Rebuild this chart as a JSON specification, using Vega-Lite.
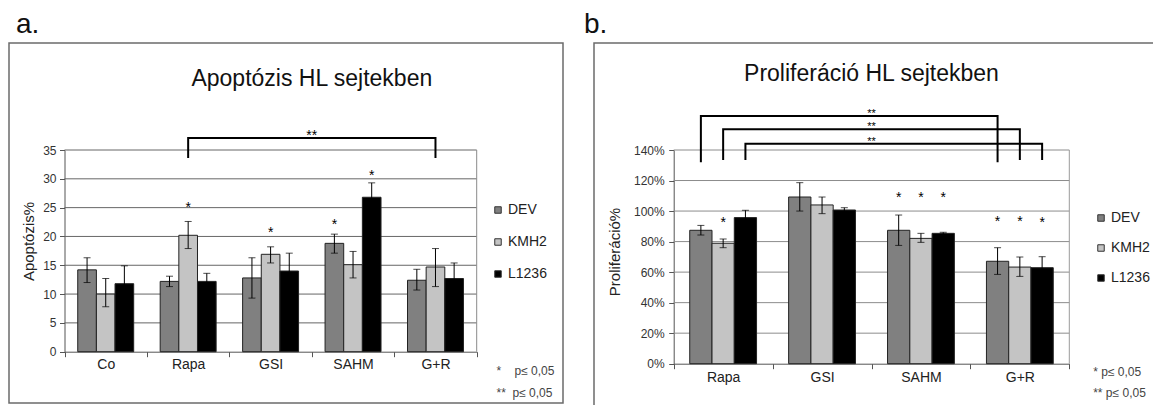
{
  "$schema": "https://vega.github.io/schema/vega-lite/v6.json",
  "padding": {"left": 8, "top": 10, "right": 0, "bottom": 0},
  "background": "white",
  "bounds": "flush",
  "spacing": 31,
  "config": {
    "font": "Liberation Sans",
    "view": {"stroke": "#6b6b6b", "strokeWidth": 1.5},
    "title": {"fontSize": 28, "fontWeight": "normal", "anchor": "start", "frame": "group", "baseline": "top", "offset": 4, "color": "#111"},
    "axis": {"grid": false, "labelColor": "#333", "domainColor": "#555", "tickColor": "#555", "titleFontWeight": "normal", "titleColor": "#222", "labelFont": "Liberation Sans", "titleFont": "Liberation Sans"}
  },
  "resolve": {"scale": {"color": "independent", "xOffset": "independent", "x": "independent", "y": "independent"}, "legend": {"color": "independent"}},
  "datasets": {
    "barsA": [
      {"group": "Co", "cell": "DEV", "value": 14.2, "lo": 12.0, "hi": 16.3},
      {"group": "Co", "cell": "KMH2", "value": 10.0, "lo": 7.8, "hi": 12.7},
      {"group": "Co", "cell": "L1236", "value": 11.8, "lo": 8.7, "hi": 14.9},
      {"group": "Rapa", "cell": "DEV", "value": 12.2, "lo": 11.3, "hi": 13.1},
      {"group": "Rapa", "cell": "KMH2", "value": 20.2, "lo": 17.9, "hi": 22.6},
      {"group": "Rapa", "cell": "L1236", "value": 12.2, "lo": 10.8, "hi": 13.6},
      {"group": "GSI", "cell": "DEV", "value": 12.8, "lo": 9.3, "hi": 16.3},
      {"group": "GSI", "cell": "KMH2", "value": 16.9, "lo": 15.4, "hi": 18.2},
      {"group": "GSI", "cell": "L1236", "value": 14.0, "lo": 11.0, "hi": 17.1},
      {"group": "SAHM", "cell": "DEV", "value": 18.8, "lo": 17.1, "hi": 20.4},
      {"group": "SAHM", "cell": "KMH2", "value": 15.1, "lo": 12.8, "hi": 17.4},
      {"group": "SAHM", "cell": "L1236", "value": 26.8, "lo": 24.3, "hi": 29.3},
      {"group": "G+R", "cell": "DEV", "value": 12.4, "lo": 10.7, "hi": 14.3},
      {"group": "G+R", "cell": "KMH2", "value": 14.7, "lo": 11.3, "hi": 17.9},
      {"group": "G+R", "cell": "L1236", "value": 12.7, "lo": 10.0, "hi": 15.4}
    ],
    "starsA": [
      {"group": "Rapa", "cell": "KMH2", "v": 25.7, "t": "*"},
      {"group": "GSI", "cell": "KMH2", "v": 21.3, "t": "*"},
      {"group": "SAHM", "cell": "DEV", "v": 22.6, "t": "*"},
      {"group": "SAHM", "cell": "L1236", "v": 31.2, "t": "*"}
    ],
    "gridA": [
      {"g1": "Co", "g2": "G+R", "v": 5}, {"g1": "Co", "g2": "G+R", "v": 10},
      {"g1": "Co", "g2": "G+R", "v": 15}, {"g1": "Co", "g2": "G+R", "v": 20},
      {"g1": "Co", "g2": "G+R", "v": 25}, {"g1": "Co", "g2": "G+R", "v": 30},
      {"g1": "Co", "g2": "G+R", "v": 35}
    ],
    "edgeA": [{"g": "G+R", "v0": 0, "v1": 35}],
    "bracketA": [
      {"id": 1, "group": "Rapa", "cell": "KMH2", "v": 33.6, "o": 1},
      {"id": 1, "group": "Rapa", "cell": "KMH2", "v": 37.1, "o": 2},
      {"id": 1, "group": "G+R", "cell": "KMH2", "v": 37.1, "o": 3},
      {"id": 1, "group": "G+R", "cell": "KMH2", "v": 33.6, "o": 4}
    ],
    "bracketLabA": [{"g": "GSI", "v": 37.1, "t": "**"}],
    "titleA": [{"g": "GSI", "v": 46.1, "t": "Apoptózis  HL sejtekben"}],
    "barsB": [
      {"group": "Rapa", "cell": "DEV", "value": 87.4, "lo": 84.3, "hi": 90.6},
      {"group": "Rapa", "cell": "KMH2", "value": 78.9, "lo": 76.0, "hi": 81.7},
      {"group": "Rapa", "cell": "L1236", "value": 95.7, "lo": 91.0, "hi": 100.5},
      {"group": "GSI", "cell": "DEV", "value": 109.2, "lo": 100.0, "hi": 118.6},
      {"group": "GSI", "cell": "KMH2", "value": 104.0, "lo": 98.3, "hi": 109.2},
      {"group": "GSI", "cell": "L1236", "value": 100.7, "lo": 99.2, "hi": 102.2},
      {"group": "SAHM", "cell": "DEV", "value": 87.4, "lo": 77.5, "hi": 97.4},
      {"group": "SAHM", "cell": "KMH2", "value": 82.1, "lo": 79.5, "hi": 85.4},
      {"group": "SAHM", "cell": "L1236", "value": 85.4, "lo": 84.8, "hi": 86.1},
      {"group": "G+R", "cell": "DEV", "value": 67.1, "lo": 58.5, "hi": 76.0},
      {"group": "G+R", "cell": "KMH2", "value": 63.3, "lo": 57.2, "hi": 69.9},
      {"group": "G+R", "cell": "L1236", "value": 62.9, "lo": 55.7, "hi": 70.1}
    ],
    "starsB": [
      {"group": "Rapa", "cell": "KMH2", "v": 94.6, "t": "*"},
      {"group": "SAHM", "cell": "DEV", "v": 111.0, "t": "*"},
      {"group": "SAHM", "cell": "KMH2", "v": 111.0, "t": "*"},
      {"group": "SAHM", "cell": "L1236", "v": 111.0, "t": "*"},
      {"group": "G+R", "cell": "DEV", "v": 95.7, "t": "*"},
      {"group": "G+R", "cell": "KMH2", "v": 95.7, "t": "*"},
      {"group": "G+R", "cell": "L1236", "v": 94.6, "t": "*"}
    ],
    "gridB": [
      {"g1": "Rapa", "g2": "G+R", "v": 20}, {"g1": "Rapa", "g2": "G+R", "v": 40},
      {"g1": "Rapa", "g2": "G+R", "v": 60}, {"g1": "Rapa", "g2": "G+R", "v": 80},
      {"g1": "Rapa", "g2": "G+R", "v": 100}, {"g1": "Rapa", "g2": "G+R", "v": 120},
      {"g1": "Rapa", "g2": "G+R", "v": 140}
    ],
    "edgeB": [{"g": "G+R", "v0": 0, "v1": 140}],
    "bracketB": [
      {"id": 1, "group": "Rapa", "cell": "DEV", "v": 132, "o": 1},
      {"id": 1, "group": "Rapa", "cell": "DEV", "v": 162.3, "o": 2},
      {"id": 1, "group": "G+R", "cell": "DEV", "v": 162.3, "o": 3},
      {"id": 1, "group": "G+R", "cell": "DEV", "v": 132, "o": 4},
      {"id": 2, "group": "Rapa", "cell": "KMH2", "v": 133.5, "o": 1},
      {"id": 2, "group": "Rapa", "cell": "KMH2", "v": 153.6, "o": 2},
      {"id": 2, "group": "G+R", "cell": "KMH2", "v": 153.6, "o": 3},
      {"id": 2, "group": "G+R", "cell": "KMH2", "v": 133.5, "o": 4},
      {"id": 3, "group": "Rapa", "cell": "L1236", "v": 133.5, "o": 1},
      {"id": 3, "group": "Rapa", "cell": "L1236", "v": 144.1, "o": 2},
      {"id": 3, "group": "G+R", "cell": "L1236", "v": 144.1, "o": 3},
      {"id": 3, "group": "G+R", "cell": "L1236", "v": 133.5, "o": 4}
    ],
    "bracketLabB": [
      {"g": "SAHM", "v": 162.3, "t": "**"},
      {"g": "SAHM", "v": 153.6, "t": "**"},
      {"g": "SAHM", "v": 144.1, "t": "**"}
    ],
    "titleB": [{"g": "SAHM", "v": 185.2, "t": "Proliferáció  HL sejtekben"}]
  },
  "hconcat": [
    {
      "width": 554,
      "height": 360,
      "title": {"text": "a.", "dx": 7},
      "layer": [
        {
          "data": {"name": "gridA"},
          "mark": {"type": "rule", "color": "#666666", "strokeWidth": 1},
          "encoding": {
            "x": {"field": "g1", "type": "nominal", "bandPosition": 0},
            "x2": {"field": "g2", "bandPosition": 1},
            "y": {"field": "v", "type": "quantitative"}
          }
        },
        {
          "data": {"name": "edgeA"},
          "mark": {"type": "rule", "color": "#8a8a8a", "strokeWidth": 1},
          "encoding": {
            "x": {"field": "g", "type": "nominal", "bandPosition": 1},
            "y": {"field": "v0", "type": "quantitative"},
            "y2": {"field": "v1"}
          }
        },
        {
          "data": {"name": "barsA"},
          "mark": {"type": "bar", "stroke": "#222", "strokeWidth": 1},
          "encoding": {
            "x": {
              "field": "group", "type": "nominal",
              "scale": {"domain": ["Co", "Rapa", "GSI", "SAHM", "G+R"], "range": [55.5, 467.7], "paddingInner": 0, "paddingOuter": 0},
              "axis": {
                "title": ["*\u00a0\u00a0\u00a0\u00a0p≤ 0,05", "**\u00a0\u00a0p≤ 0,05"],
                "titleX": 487, "titleY": 23, "titleAlign": "left", "titleBaseline": "alphabetic",
                "titleFontSize": 12, "titleColor": "#444", "titleLineHeight": 21.7,
                "offset": -51.3, "labelAngle": 0, "labelAlign": "center", "labelFontSize": 14, "labelColor": "#222",
                "labelPadding": 8, "tickBand": "extent", "tickSize": 5
              }
            },
            "xOffset": {"field": "cell", "type": "nominal", "scale": {"domain": ["DEV", "KMH2", "L1236"], "paddingInner": 0, "paddingOuter": 0.71}},
            "y": {
              "field": "value", "type": "quantitative",
              "scale": {"domain": [0, 35], "range": [308.7, 107], "nice": false, "zero": false},
              "axis": {
                "title": "Apoptózis%", "offset": -55.5, "values": [0, 5, 10, 15, 20, 25, 30, 35],
                "labelFontSize": 12, "labelPadding": 3.5, "tickSize": 5,
                "titleFontSize": 15, "titleX": -36, "titleY": 198, "titleAlign": "center", "titleBaseline": "middle", "titleAngle": 270
              }
            },
            "color": {
              "field": "cell", "type": "nominal",
              "scale": {"domain": ["DEV", "KMH2", "L1236"], "range": ["#808080", "#c4c4c4", "#000000"]},
              "legend": {"orient": "none", "legendX": 482, "legendY": 160, "title": null, "symbolType": "square", "symbolSize": 42, "symbolStrokeColor": "#333", "symbolStrokeWidth": 1, "labelFontSize": 14, "labelColor": "#222", "rowPadding": 18, "labelOffset": 3}
            }
          }
        },
        {
          "data": {"name": "barsA"},
          "mark": {"type": "rule", "color": "#000", "strokeWidth": 1},
          "encoding": {
            "x": {"field": "group", "type": "nominal"},
            "xOffset": {"field": "cell", "type": "nominal"},
            "y": {"field": "lo", "type": "quantitative"},
            "y2": {"field": "hi"}
          }
        },
        {
          "data": {"name": "barsA"},
          "mark": {"type": "tick", "color": "#000", "size": 7, "thickness": 1},
          "encoding": {
            "x": {"field": "group", "type": "nominal"},
            "xOffset": {"field": "cell", "type": "nominal"},
            "y": {"field": "lo", "type": "quantitative"}
          }
        },
        {
          "data": {"name": "barsA"},
          "mark": {"type": "tick", "color": "#000", "size": 7, "thickness": 1},
          "encoding": {
            "x": {"field": "group", "type": "nominal"},
            "xOffset": {"field": "cell", "type": "nominal"},
            "y": {"field": "hi", "type": "quantitative"}
          }
        },
        {
          "data": {"name": "starsA"},
          "mark": {"type": "text", "fontSize": 14, "color": "#000", "baseline": "alphabetic", "dy": 8},
          "encoding": {
            "x": {"field": "group", "type": "nominal"},
            "xOffset": {"field": "cell", "type": "nominal"},
            "y": {"field": "v", "type": "quantitative"},
            "text": {"field": "t"}
          }
        },
        {
          "data": {"name": "bracketA"},
          "mark": {"type": "line", "color": "#000", "strokeWidth": 2},
          "encoding": {
            "x": {"field": "group", "type": "nominal"},
            "xOffset": {"field": "cell", "type": "nominal"},
            "y": {"field": "v", "type": "quantitative"},
            "order": {"field": "o"},
            "detail": {"field": "id"}
          }
        },
        {
          "data": {"name": "bracketLabA"},
          "mark": {"type": "text", "fontSize": 14, "color": "#000", "baseline": "alphabetic", "dy": 2},
          "encoding": {
            "x": {"field": "g", "type": "nominal", "bandPosition": 1},
            "y": {"field": "v", "type": "quantitative"},
            "text": {"field": "t"}
          }
        },
        {
          "data": {"name": "titleA"},
          "mark": {"type": "text", "fontSize": 23, "color": "#111", "baseline": "alphabetic"},
          "encoding": {
            "x": {"field": "g", "type": "nominal", "bandPosition": 1},
            "y": {"field": "v", "type": "quantitative"},
            "text": {"field": "t"}
          }
        }
      ]
    },
    {
      "width": 560,
      "height": 363,
      "title": {"text": "b.", "dx": -10},
      "view": {"strokeDash": [560, 923, 363]},
      "layer": [
        {
          "data": {"name": "gridB"},
          "mark": {"type": "rule", "color": "#8c8c8c", "strokeWidth": 1},
          "encoding": {
            "x": {"field": "g1", "type": "nominal", "bandPosition": 0},
            "x2": {"field": "g2", "bandPosition": 1},
            "y": {"field": "v", "type": "quantitative"}
          }
        },
        {
          "data": {"name": "edgeB"},
          "mark": {"type": "rule", "color": "#9a9a9a", "strokeWidth": 1},
          "encoding": {
            "x": {"field": "g", "type": "nominal", "bandPosition": 1},
            "y": {"field": "v0", "type": "quantitative"},
            "y2": {"field": "v1"}
          }
        },
        {
          "data": {"name": "barsB"},
          "mark": {"type": "bar", "stroke": "#222", "strokeWidth": 1},
          "encoding": {
            "x": {
              "field": "group", "type": "nominal",
              "scale": {"domain": ["Rapa", "GSI", "SAHM", "G+R"], "range": [79.7, 475.3], "paddingInner": 0, "paddingOuter": 0},
              "axis": {
                "title": ["*\u00a0p≤ 0,05", "**\u00a0p≤ 0,05"],
                "titleX": 498.7, "titleY": 11.5, "titleAlign": "left", "titleBaseline": "alphabetic",
                "titleFontSize": 12, "titleColor": "#444", "titleLineHeight": 21.7,
                "offset": -42.3, "labelAngle": 0, "labelAlign": "center", "labelFontSize": 14, "labelColor": "#222",
                "labelPadding": 9, "tickBand": "extent", "tickSize": 5
              }
            },
            "xOffset": {"field": "cell", "type": "nominal", "scale": {"domain": ["DEV", "KMH2", "L1236"], "paddingInner": 0, "paddingOuter": 0.72}},
            "y": {
              "field": "value", "type": "quantitative",
              "scale": {"domain": [0, 140], "range": [320.7, 107], "nice": false, "zero": false},
              "axis": {
                "title": "Proliferáció%", "offset": -79.7, "values": [0, 20, 40, 60, 80, 100, 120, 140],
                "labelExpr": "datum.value + '%'",
                "labelFontSize": 12, "labelPadding": 4.5, "tickSize": 5,
                "titleFontSize": 15, "titleX": -59.7, "titleY": 208.5, "titleAlign": "center", "titleBaseline": "middle", "titleAngle": 270
              }
            },
            "color": {
              "field": "cell", "type": "nominal",
              "scale": {"domain": ["DEV", "KMH2", "L1236"], "range": ["#808080", "#c4c4c4", "#000000"]},
              "legend": {"orient": "none", "legendX": 500, "legendY": 168, "title": null, "symbolType": "square", "symbolSize": 42, "symbolStrokeColor": "#333", "symbolStrokeWidth": 1, "labelFontSize": 14, "labelColor": "#222", "rowPadding": 16, "labelOffset": 3}
            }
          }
        },
        {
          "data": {"name": "barsB"},
          "mark": {"type": "rule", "color": "#000", "strokeWidth": 1},
          "encoding": {
            "x": {"field": "group", "type": "nominal"},
            "xOffset": {"field": "cell", "type": "nominal"},
            "y": {"field": "lo", "type": "quantitative"},
            "y2": {"field": "hi"}
          }
        },
        {
          "data": {"name": "barsB"},
          "mark": {"type": "tick", "color": "#000", "size": 7, "thickness": 1},
          "encoding": {
            "x": {"field": "group", "type": "nominal"},
            "xOffset": {"field": "cell", "type": "nominal"},
            "y": {"field": "lo", "type": "quantitative"}
          }
        },
        {
          "data": {"name": "barsB"},
          "mark": {"type": "tick", "color": "#000", "size": 7, "thickness": 1},
          "encoding": {
            "x": {"field": "group", "type": "nominal"},
            "xOffset": {"field": "cell", "type": "nominal"},
            "y": {"field": "hi", "type": "quantitative"}
          }
        },
        {
          "data": {"name": "starsB"},
          "mark": {"type": "text", "fontSize": 14, "color": "#000", "baseline": "alphabetic", "dy": 8},
          "encoding": {
            "x": {"field": "group", "type": "nominal"},
            "xOffset": {"field": "cell", "type": "nominal"},
            "y": {"field": "v", "type": "quantitative"},
            "text": {"field": "t"}
          }
        },
        {
          "data": {"name": "bracketB"},
          "mark": {"type": "line", "color": "#000", "strokeWidth": 2},
          "encoding": {
            "x": {"field": "group", "type": "nominal"},
            "xOffset": {"field": "cell", "type": "nominal"},
            "y": {"field": "v", "type": "quantitative"},
            "order": {"field": "o"},
            "detail": {"field": "id"}
          }
        },
        {
          "data": {"name": "bracketLabB"},
          "mark": {"type": "text", "fontSize": 11, "color": "#000", "baseline": "alphabetic", "dy": 1},
          "encoding": {
            "x": {"field": "g", "type": "nominal", "bandPosition": 0},
            "y": {"field": "v", "type": "quantitative"},
            "text": {"field": "t"}
          }
        },
        {
          "data": {"name": "titleB"},
          "mark": {"type": "text", "fontSize": 23, "color": "#111", "baseline": "alphabetic"},
          "encoding": {
            "x": {"field": "g", "type": "nominal", "bandPosition": 0},
            "y": {"field": "v", "type": "quantitative"},
            "text": {"field": "t"}
          }
        }
      ]
    }
  ]
}
